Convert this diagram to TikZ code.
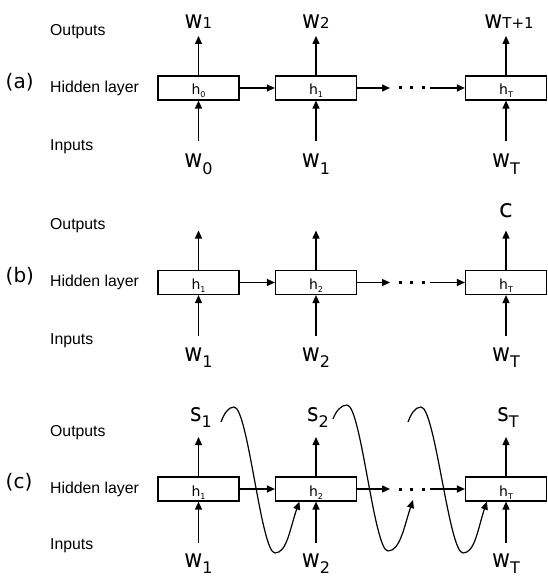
\documentclass[tikz,border=0pt]{standalone}
\usepackage{fontspec}
\setmainfont{Liberation Sans}
\newfontfamily\dv{DejaVu Sans}
\usetikzlibrary{arrows.meta}
\newcommand\lbl[4]{\scalebox{0.88}[1]{#1}\raisebox{#3}{\fontsize{#4}{#4}\selectfont #2}}
\newcommand\hs[1]{h\raisebox{-3pt}{\fontsize{8}{8}\selectfont #1}}
\begin{document}
\begin{tikzpicture}[x=1pt,y=-1pt,
  hbox/.style={draw, line width=1.2pt, minimum width=81pt, minimum height=24pt, inner sep=0pt,
    text height=14pt, text depth=0pt, font=\dv\fontsize{14}{14}\selectfont},
  arr/.style={line width=1.3pt, -{Triangle[length=8pt,width=7pt]}},
  curv/.style={line width=1.2pt, -{Triangle[length=8pt,width=7pt]}},
  rowlab/.style={anchor=base west, inner sep=0pt, font=\fontsize{15.8}{18}\selectfont},
  tag/.style={anchor=base west, inner sep=0pt, font=\dv\fontsize{20}{22}\selectfont},
  wl/.style={anchor=base, inner sep=0pt, font=\dv\fontsize{25}{27}\selectfont},
  dotsq/.style={fill=black}]
\useasboundingbox (0,0) rectangle (547,577);

% ---------------- (a) ----------------
\node[tag] (ta) at (5.5,88.5) {(a)};
\node[rowlab] (oa) at (50,35.3) {Outputs};
\node[rowlab] (ha) at (50,92.3) {Hidden layer};
\node[rowlab] (ia) at (50,150.5) {Inputs};
\node[hbox] (a1) at (198.5,88) {\hs{0}};
\node[hbox] (a2) at (316,88) {\hs{1}};
\node[hbox] (aT) at (506,88) {\hs{T}};
\node[wl] (ao1) at (198.5,29) {\lbl{w}{1}{0pt}{15}};
\node[wl] (ao2) at (316,29) {\lbl{w}{2}{0pt}{15}};
\node[wl] (aoT) at (509,29) {\lbl{w}{T+1}{0pt}{15}};
\node[wl] (ai1) at (198.5,168) {\lbl{w}{0}{-6pt}{16}};
\node[wl] (ai2) at (316,168) {\lbl{w}{1}{-6pt}{16}};
\node[wl] (aiT) at (506,168) {\lbl{w}{T}{-6pt}{16}};
\coordinate (aot1) at (198.5,36); \coordinate (aot2) at (316,36); \coordinate (aotT) at (506,36);
\coordinate (ais1) at (198.5,141.5); \coordinate (ais2) at (316,141.5); \coordinate (aisT) at (506,141.5);
\draw[arr] (a1.north) -- (aot1);
\draw[arr] (a2.north) -- (aot2);
\draw[arr] (aT.north) -- (aotT);
\draw[arr] (ais1) -- (a1.south);
\draw[arr] (ais2) -- (a2.south);
\draw[arr] (aisT) -- (aT.south);
\coordinate (ad1) at (390,88); \coordinate (ad2) at (430,88);
\draw[arr] (a1.east) -- (a2.west);
\draw[arr] (a2.east) -- (ad1);
\draw[arr] (ad2) -- (aT.west);
\foreach \x in {400,411.5,423} \fill[dotsq] (\x-1.5,86.5) rectangle ++(3,3);

% ---------------- (b) ----------------
\node[tag] (tb) at (5.5,282) {(b)};
\node[rowlab] (ob) at (50,229) {Outputs};
\node[rowlab] (hb) at (50,286.7) {Hidden layer};
\node[rowlab] (ib) at (50,344.5) {Inputs};
\node[hbox] (b1) at (198.5,282.5) {\hs{1}};
\node[hbox] (b2) at (316,282.5) {\hs{2}};
\node[hbox] (bT) at (506,282.5) {\hs{T}};
\node[wl] (boT) at (506,217.7) {c};
\node[wl] (bi1) at (198.5,361) {\lbl{w}{1}{-6pt}{16}};
\node[wl] (bi2) at (316,361) {\lbl{w}{2}{-6pt}{16}};
\node[wl] (biT) at (506,361) {\lbl{w}{T}{-6pt}{16}};
\coordinate (bot1) at (198.5,230.5); \coordinate (bot2) at (316,230.5); \coordinate (botT) at (506,230.5);
\coordinate (bis1) at (198.5,336); \coordinate (bis2) at (316,336); \coordinate (bisT) at (506,336);
\draw[arr] (b1.north) -- (bot1);
\draw[arr] (b2.north) -- (bot2);
\draw[arr] (bT.north) -- (botT);
\draw[arr] (bis1) -- (b1.south);
\draw[arr] (bis2) -- (b2.south);
\draw[arr] (bisT) -- (bT.south);
\coordinate (bd1) at (390,282.5); \coordinate (bd2) at (430,282.5);
\draw[arr] (b1.east) -- (b2.west);
\draw[arr] (b2.east) -- (bd1);
\draw[arr] (bd2) -- (bT.west);
\foreach \x in {400,411.5,423} \fill[dotsq] (\x-1.5,281) rectangle ++(3,3);

% ---------------- (c) ----------------
\node[tag] (tc) at (5.5,488.5) {(c)};
\node[rowlab] (oc) at (50,436) {Outputs};
\node[rowlab] (hc) at (50,493.3) {Hidden layer};
\node[rowlab] (ic) at (50,549.5) {Inputs};
\node[hbox] (c1) at (198.5,489) {\hs{1}};
\node[hbox] (c2) at (316,489) {\hs{2}};
\node[hbox] (cT) at (506,489) {\hs{T}};
\node[wl] (co1) at (201,421) {\lbl{s}{1}{-6pt}{16}};
\node[wl] (co2) at (318,421) {\lbl{s}{2}{-6pt}{16}};
\node[wl] (coT) at (508,421) {\lbl{s}{T}{-6pt}{16}};
\node[wl] (ci1) at (198.5,567) {\lbl{w}{1}{-6pt}{16}};
\node[wl] (ci2) at (316,567) {\lbl{w}{2}{-6pt}{16}};
\node[wl] (ciT) at (506,567) {\lbl{w}{T}{-6pt}{16}};
\coordinate (cot1) at (198.5,437); \coordinate (cot2) at (316,437); \coordinate (cotT) at (506,437);
\coordinate (cis1) at (198.5,542.5); \coordinate (cis2) at (316,542.5); \coordinate (cisT) at (506,542.5);
\draw[arr] (c1.north) -- (cot1);
\draw[arr] (c2.north) -- (cot2);
\draw[arr] (cT.north) -- (cotT);
\draw[arr] (cis1) -- (c1.south);
\draw[arr] (cis2) -- (c2.south);
\draw[arr] (cisT) -- (cT.south);
\coordinate (cd1) at (390,489); \coordinate (cd2) at (430,489);
\draw[arr] (c1.east) -- (c2.west);
\draw[arr] (c2.east) -- (cd1);
\draw[arr] (cd2) -- (cT.west);
\foreach \x in {400,411.5,423} \fill[dotsq] (\x-1.5,487.5) rectangle ++(3,3);

% curves
\coordinate (k1s) at (221,422);
\coordinate (k2s) at (333,419);
\coordinate (k2e) at (413,500);
\coordinate (k3s) at (408,422);
\draw[curv] (k1s) .. controls (224,414) and (228,407) .. (234,407)
  .. controls (248,407) and (261,553) .. (275,553)
  .. controls (287,553) and (290,528) .. ([xshift=24.5pt]c2.south west);
\draw[curv] (k2s) .. controls (336,411) and (341,405) .. (347,405)
  .. controls (361,405) and (374,551) .. (388,551)
  .. controls (400,551) and (404,527) .. (k2e);
\draw[curv] (k3s) .. controls (411,414) and (415,407) .. (421,407)
  .. controls (435,407) and (449,553) .. (463,553)
  .. controls (475,553) and (478,528) .. ([xshift=22pt]cT.south west);
\end{tikzpicture}
\end{document}
